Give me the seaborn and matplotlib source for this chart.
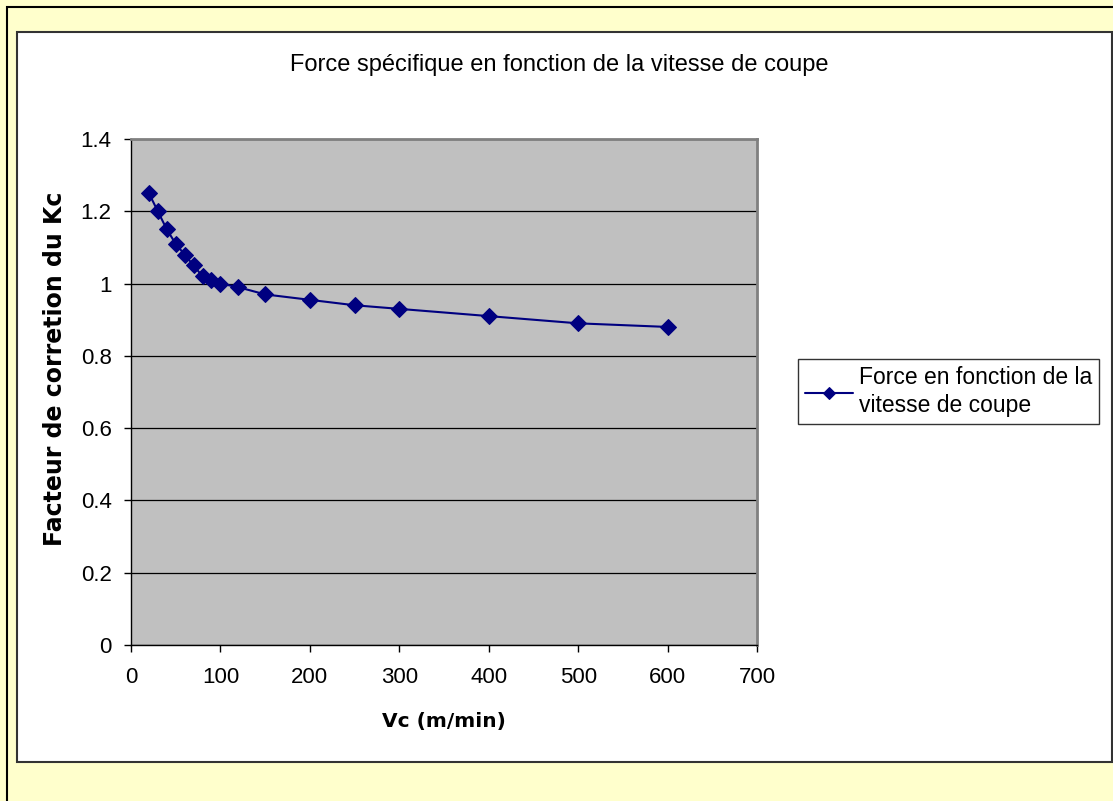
import matplotlib
matplotlib.use("Agg")
import matplotlib.pyplot as plt
from matplotlib.patches import Rectangle
import seaborn as sns
import pandas as pd

vc = [20, 30, 40, 50, 60, 70, 80, 90, 100, 120, 150, 200, 250, 300, 400, 500, 600]
kc = [1.25, 1.20, 1.15, 1.11, 1.08, 1.05, 1.02, 1.01, 1.00, 0.99, 0.97, 0.955, 0.94, 0.93, 0.91, 0.89, 0.88]
series_name = "Force en fonction de la\nvitesse de coupe"
title = "Force spécifique en fonction de la vitesse de coupe"
xlabel = "Vc (m/min)"
ylabel = "Facteur de corretion du Kc"
yticks = [0, 0.2, 0.4, 0.6, 0.8, 1, 1.2, 1.4]
ytick_labels = ["0", "0.2", "0.4", "0.6", "0.8", "1", "1.2", "1.4"]
xticks = [0, 100, 200, 300, 400, 500, 600, 700]

df = pd.DataFrame({"Vc": vc, "Kc": kc, "serie": series_name})

sns.set_theme(style="white")
plt.rcParams['font.family'] = ['Liberation Sans', 'DejaVu Sans']

W, H = 1113, 801
fig = plt.figure(figsize=(W / 100, H / 100), dpi=100)
fig.patch.set_facecolor("#FFFFCC")

def fx(p):
    return p / W

def fy(p):
    return 1 - p / H

# outer border
fig.patches.append(Rectangle((fx(7), fy(820)), fx(1130 - 7), (820 - 7) / H,
                             transform=fig.transFigure, facecolor="#FFFFCC",
                             edgecolor="black", linewidth=1.5, zorder=-10))
# inner white chart area
fig.patches.append(Rectangle((fx(17), fy(762)), fx(1112 - 17), (762 - 32) / H,
                             transform=fig.transFigure, facecolor="white",
                             edgecolor="#333333", linewidth=1.5, zorder=-9))

ax = fig.add_axes([fx(131), fy(645), fx(757 - 131), (645 - 139) / H])
ax.set_facecolor("#C0C0C0")

sns.lineplot(data=df, x="Vc", y="Kc", hue="serie", palette=["#000080"],
             marker="D", markersize=8, markeredgecolor="#000080",
             linewidth=1.5, ax=ax, legend=True, zorder=3)

ax.set_xlim(0, 700)
ax.set_ylim(0, 1.4)
ax.set_xticks(xticks)
ax.set_xticklabels([str(t) for t in xticks])
ax.set_yticks(yticks)
ax.set_yticklabels(ytick_labels)
ax.yaxis.grid(True, color="black", linewidth=0.9)
ax.xaxis.grid(False)
ax.set_axisbelow(True)

for side in ["left", "bottom"]:
    ax.spines[side].set_color("black")
    ax.spines[side].set_linewidth(1.0)
for side in ["top", "right"]:
    ax.spines[side].set_color("#808080")
    ax.spines[side].set_linewidth(2.0)

ax.tick_params(axis="both", which="major", direction="out", length=5,
               width=1, color="black", labelsize=16, labelcolor="black",
               left=True, bottom=True)
ax.tick_params(axis="x", pad=11)
ax.tick_params(axis="y", pad=9)

ax.set_xlabel("")
ax.set_ylabel("")
fig.text(fx(444), fy(722), xlabel, ha="center", va="center", family=["DejaVu Sans"],
         fontsize=14.5, fontweight="bold", color="black")
fig.text(fx(55), fy(369), ylabel, ha="center", va="center", rotation=90,
         family=["DejaVu Sans"], fontsize=17, fontweight="bold", color="black")

fig.text(fx(559), fy(65), title, ha="center", va="center", fontsize=17, color="black")

leg = ax.legend(loc="upper left", bbox_to_anchor=(fx(798), fy(359)),
                bbox_transform=fig.transFigure, frameon=True, fancybox=False,
                shadow=False, fontsize=16.5, handlelength=2.1,
                borderpad=0.3, handletextpad=0.25, borderaxespad=0)
leg.get_frame().set_edgecolor("black")
leg.get_frame().set_linewidth(1.0)
leg.get_frame().set_facecolor("white")
for t in leg.get_texts():
    t.set_color("black")
    t.set_linespacing(1.3)
for h in leg.legend_handles:
    h.set_markersize(6)

fig.savefig("out.png", dpi=100, facecolor=fig.get_facecolor())
